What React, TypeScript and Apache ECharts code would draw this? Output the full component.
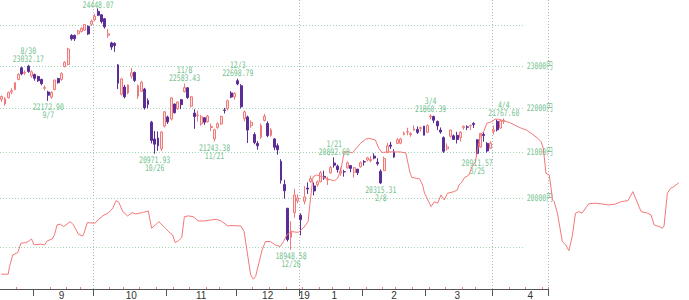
import { useEffect, useRef } from 'react';
import * as echarts from 'echarts';

// ---------- categories (trading days) ----------
const firstDay = '2018-08-20';
const lastDay = '2019-04-23';
const holidays = [
  '2018-09-17', '2018-09-24', '2018-10-08', '2018-11-23', '2018-12-24', '2018-12-31',
  '2019-01-01', '2019-01-02', '2019-01-03', '2019-01-14', '2019-02-11', '2019-03-21',
];

// month tick labels: [date where the label sits, text]
const monthLabels: [string, string][] = [
  ['2018-09-13', '9'], ['2018-10-17', '10'], ['2018-11-15', '11'], ['2018-12-14', '12'],
  ['2019-01-07', '19'], ['2019-01-21', '1'], ['2019-02-15', '2'], ['2019-03-14', '3'], ['2019-04-16', '4'],
];
const quarterStarts = ['2018-10-01', '2019-01-04', '2019-04-01'];

// ---------- candles [open, close, low, high] from 2018-08-20 ----------
const candlesAug: number[][] = [
  [22210, 22275, 22150, 22300], [22100, 22230, 22060, 22260], [22250, 22370, 22230, 22390],
  [22380, 22410, 22330, 22470], [22440, 22600, 22420, 22620], [22680, 22800, 22660, 22830],
  [22960, 22813, 22780, 22990], [22830, 22850, 22790, 22900], [23000, 22870, 22840, 23032.17],
  [22760, 22865, 22720, 22900],
];
const candlesSep: number[][] = [
  [22800, 22707, 22650, 22820], [22750, 22650, 22620, 22770], [22680, 22580, 22540, 22700],
  [22470, 22487, 22420, 22540], [22380, 22307, 22172.9, 22410], [22260, 22373, 22220, 22400],
  [22440, 22664, 22420, 22680], [22700, 22604, 22580, 22720], [22680, 22821, 22650, 22850],
  [22990, 23094, 22970, 23120], [23040, 23420, 23020, 23450], [23760, 23672, 23630, 23790],
  [23760, 23674, 23620, 23780], [23800, 23870, 23780, 23900], [23860, 23940, 23830, 23960],
  [23890, 24033, 23880, 24050], [23990, 23796, 23770, 24010], [24040, 24120, 24000, 24160],
];
const candlesOct: number[][] = [
  [24150, 24245, 24120, 24306], [24370, 24270, 24250, 24448.07], [24280, 24110, 24060, 24300],
  [24180, 23975, 23930, 24200], [23760, 23800, 23700, 23920], [23570, 23469, 23400, 23600],
  [23560, 23506, 23350, 23590], [23030, 22590, 22450, 23050], [22330, 22694, 22300, 22720],
  [22500, 22271, 22230, 22550], [22360, 22549, 22330, 22560], [22760, 22841, 22700, 22960],
  [22850, 22658, 22620, 22870], [22280, 22532, 22220, 22560], [22400, 22614, 22380, 22650],
  [22450, 22010, 21970, 22480], [22180, 22091, 22000, 22230], [21680, 21268, 21200, 21710],
  [21300, 21184, 20971.93, 21480], [21320, 21149, 21035, 21470], [21080, 21457, 21030, 21480],
  [21590, 21920, 21560, 21940],
];
const candlesNov: number[][] = [
  [21800, 21687, 21640, 21830], [21750, 22243, 21720, 22260], [22100, 21898, 21880, 22110],
  [21990, 22147, 21960, 22170], [22200, 22085, 21980, 22220], [22390, 22486, 22370, 22583.43],
  [22480, 22250, 22220, 22500], [22050, 22269, 22020, 22290], [21890, 21810, 21530, 21980],
  [21830, 21846, 21700, 21950], [21640, 21803, 21600, 21850], [21780, 21680, 21620, 21800],
  [21690, 21821, 21670, 21850], [21560, 21583, 21480, 21650], [21300, 21507, 21243.38, 21530],
  [21560, 21646, 21530, 21680], [21640, 21812, 21620, 21830], [21960, 21952, 21880, 22010],
  [21990, 22177, 21950, 22200], [22360, 22262, 22240, 22400], [22270, 22351, 22200, 22380],
];
const candlesDec: number[][] = [
  [22650, 22574, 22540, 22698.79], [22530, 22036, 22000, 22570], [21760, 21919, 21700, 21950],
  [21800, 21501, 21210, 21830], [21600, 21679, 21550, 21720], [21400, 21219, 21180, 21450],
  [21200, 21148, 21060, 21250], [21340, 21602, 21300, 21650], [21720, 21816, 21700, 21870],
  [21650, 21375, 21340, 21700], [21380, 21506, 21350, 21550], [21300, 21115, 21050, 21320],
  [21150, 21060, 20950, 21200], [20800, 20392, 20320, 20850], [20300, 20166, 20000, 20400],
  [19800, 19155, 19117, 19800], [19200, 19327, 18948.58, 19530], [19706, 20077, 19600, 20211],
  [19950, 20015, 19900, 20090],
];
const candlesJan: number[][] = [
  [19655, 19561, 19241, 19692], [19944, 20038, 19880, 20266], [20224, 20204, 20100, 20347],
  [20366, 20427, 20331, 20494], [20270, 20163, 20068, 20345], [20296, 20359, 20253, 20389],
  [20362, 20555, 20346, 20592], [20476, 20442, 20400, 20599], [20401, 20402, 20289, 20466],
  [20552, 20666, 20535, 20703], [20765, 20719, 20665, 20892.68], [20698, 20622, 20558, 20731],
  [20546, 20593, 20490, 20670], [20575, 20574, 20470, 20617], [20660, 20773, 20640, 20800],
  [20711, 20649, 20566, 20721], [20564, 20664, 20451, 20681], [20633, 20556, 20504, 20633],
  [20683, 20773, 20667, 20803],
];
const candlesFeb: number[][] = [
  [20797, 20788, 20709, 20831], [20832, 20883, 20801, 20900], [20820, 20844, 20781, 20922],
  [20918, 20874, 20847, 20981], [20784, 20751, 20710, 20871], [20585, 20333, 20315.31, 20626],
  [20600, 20864, 20600, 20908], [21000, 21144, 20980, 21213], [21165, 21139, 21077, 21235],
  [21011, 20900, 20880, 21071], [21198, 21281, 21190, 21322], [21206, 21302, 21182, 21328],
  [21400, 21431, 21381, 21470], [21454, 21464, 21383, 21553], [21400, 21425, 21350, 21450],
  [21500, 21528, 21490, 21610], [21514, 21449, 21412, 21583], [21540, 21556, 21470, 21580],
  [21590, 21385, 21385, 21595],
];
const candlesMar: number[][] = [
  [21450, 21602, 21440, 21632], [21800, 21822, 21743, 21860.39], [21810, 21726, 21661, 21830],
  [21695, 21596, 21500, 21720], [21500, 21456, 21420, 21560], [21330, 21025, 20990, 21360],
  [21080, 21125, 21040, 21200], [21361, 21503, 21330, 21510], [21370, 21290, 21280, 21400],
  [21383, 21287, 21200, 21460], [21330, 21451, 21240, 21480], [21553, 21584, 21508, 21603],
  [21573, 21566, 21500, 21610], [21600, 21608, 21500, 21620], [21651, 21627, 21551, 21682],
  [21280, 20977, 20911.57, 21290], [21120, 21428, 21100, 21432], [21400, 21378, 21240, 21450],
  [21200, 21033, 20995, 21230], [21090, 21205, 21080, 21250],
];
const candlesApr: number[][] = [
  [21470, 21509, 21400, 21600], [21700, 21505, 21470, 21740], [21545, 21713, 21530, 21730],
  [21700, 21724, 21640, 21767.6],
];

// ---------- annotated highs / lows ----------
const pivotDates = ['2018-08-30', '2018-09-07', '2018-10-02', '2018-10-26', '2018-11-08', '2018-11-21',
  '2018-12-03', '2018-12-26', '2019-01-21', '2019-02-08', '2019-03-04', '2019-03-25', '2019-04-04'];
const pivotPrices = [23032.17, 22172.9, 24448.07, 20971.93, 22583.43, 21243.38,
  22698.79, 18948.58, 20892.68, 20315.31, 21860.39, 20911.57, 21767.6];
const pivotKinds = ['high', 'low', 'high', 'low', 'high', 'low', 'high', 'low', 'high', 'low', 'high', 'low', 'high'];

// ---------- price grid (log scale) ----------
const gridLevels = [19000, 20000, 21000, 22000, 23000, 24000];
const labeledLevels = [20000, 21000, 22000, 23000];
const priceTop = 24663;
const priceBottom = 18182;
const gridLineEndDate = '2019-04-12';

// ---------- red comparison line: [day position, value] ----------
const overlayDay = [
  -0.1, 2.0, 2.4, 3.4, 4.9, 5.9, 7.4, 8.4, 9.1, 9.9,
  11.9, 13.1, 13.9, 15.4, 16.1, 16.9, 17.9, 18.9, 20.9, 21.9,
  23.4, 24.7, 25.1, 26.1, 28.4, 29.4, 30.9, 32.4, 33.4, 33.9,
  34.9, 35.7, 36.9, 38.4, 39.7, 40.9, 42.9, 44.7, 45.7, 46.9,
  47.9, 49.9, 51.4, 52.1, 52.9, 53.9, 54.9, 55.7, 56.9, 58.4,
  59.9, 61.9, 63.9, 65.4, 66.9, 68.9, 69.9, 72.9, 73.9, 74.9,
  75.9, 76.7, 77.4, 78.4, 79.4, 80.4, 81.9, 83.4, 84.9, 85.9,
  86.9, 88.4, 90.4, 91.9, 93.4, 94.1, 94.9, 95.9, 97.9, 99.4,
  101.4, 102.4, 103.4, 104.4, 105.9, 106.9, 107.9, 109.4, 110.9, 111.9,
  113.9, 114.9, 115.9, 118.4, 121.4, 123.2, 124.4, 125.0, 127.4, 128.3,
  128.9, 130.4, 130.9, 131.9, 132.9, 133.9, 134.9, 135.9, 137.9, 138.9,
  139.4, 140.4, 140.9, 142.4, 143.4, 144.4, 145.4, 145.9, 146.9, 147.9,
  149.4, 150.4, 151.4, 152.9, 154.9, 156.9, 158.4, 159.9, 161.4, 163.4,
  164.4, 165.1, 165.9, 166.9, 167.4, 167.9, 168.4, 169.4, 170.9, 171.9,
  172.9, 173.9, 174.9, 175.9, 176.9, 178.9, 180.9, 182.9, 184.9, 186.9,
  188.9, 190.9, 192.4, 193.4, 194.9, 196.9, 197.9, 198.9, 200.4, 201.4,
  201.9, 202.9, 203.9, 204.9, 206.4,
];
const overlayValue = [
  18505, 18505, 18653, 18883, 18928, 19116, 19128, 19162, 19201, 19082,
  19096, 19082, 19162, 19201, 19282, 19485, 19500, 19451, 19553, 19485,
  19297, 19262, 19317, 19533, 19520, 19588, 19676, 19726, 19794, 19835,
  19988, 19955, 19759, 19670, 19738, 19711, 19738, 19773, 19418, 19485,
  19553, 19418, 19317, 19282, 19128, 19168, 19228, 19655, 19670, 19655,
  19567, 19567, 19588, 19601, 19567, 19465, 19471, 19465, 19349, 18916,
  18492, 18408, 18459, 18720, 18982, 19148, 19148, 19082, 19048, 19148,
  19282, 19349, 19333, 19418, 19553, 20003, 20490, 20533, 20490, 20447,
  20405, 20462, 20641, 21034, 21034, 21012, 21099, 21226, 21314, 21337,
  21300, 21122, 21023, 21034, 21034, 21012, 20598, 20479, 20447, 20319,
  20143, 19934, 19863, 19967, 19934, 20107, 20003, 20143, 20177, 20213,
  20319, 20390, 20462, 20533, 20712, 20821, 21226, 21411, 21486, 21676,
  21712, 21767, 21767, 21735, 21689, 21614, 21562, 21524, 21450, 21337,
  21262, 21115, 20570, 20533, 20283, 20003, 19967, 19726, 19148, 19082,
  18968, 19248, 19726, 19759, 19726, 19919, 19934, 19919, 19898, 19913,
  19967, 19988, 20177, 20003, 19759, 19726, 19690, 19485, 19451, 19418,
  19465, 20143, 20249, 20283, 20367,
];
const overlayDaysTotal = 210;

// ---------- styles ----------
const UP_FILL = '#fde3e3';
const UP_LINE = '#f07a7a';
const DOWN = '#5b2d96';
const GREEN = '#74bf8e';
const GRID_GREEN = '#9fd6b2';
const TEXT_FONT = '"DejaVu Sans Mono", "Noto Sans CJK JP", monospace';

function buildDays(): string[] {
  const out: string[] = [];
  const hol = new Set(holidays);
  const d = new Date(firstDay + 'T00:00:00Z');
  const end = new Date(lastDay + 'T00:00:00Z');
  while (d.getTime() <= end.getTime()) {
    const wd = d.getUTCDay();
    const s = d.toISOString().slice(0, 10);
    if (wd !== 0 && wd !== 6 && !hol.has(s)) out.push(s);
    d.setUTCDate(d.getUTCDate() + 1);
  }
  return out;
}

function md(s: string) {
  const [, m, d] = s.split('-');
  return `${parseInt(m, 10)}/${parseInt(d, 10)}`;
}

function weekday(s: string) {
  return new Date(s + 'T00:00:00Z').getUTCDay();
}

function buildOption() {
  const L = Math.log;
  const days = buildDays();
  const candles = [
    ...candlesAug, ...candlesSep, ...candlesOct, ...candlesNov, ...candlesDec,
    ...candlesJan, ...candlesFeb, ...candlesMar, ...candlesApr,
  ];
  const monthStartIdx = new Set<number>();
  const weekStartIdx = new Set<number>();
  days.forEach((d, i) => {
    if (i > 0 && d.slice(0, 7) !== days[i - 1].slice(0, 7)) monthStartIdx.add(i);
    if (i > 0 && weekday(d) < weekday(days[i - 1])) weekStartIdx.add(i);
  });
  const quarterIdx = new Set(quarterStarts.map((d) => days.indexOf(d)));
  const labelMap = new Map(monthLabels);
  const labelIdx = new Set(monthLabels.map(([d]) => days.indexOf(d)));
  const gridEndIdx = days.indexOf(gridLineEndDate);

  const yMin = L(priceBottom);
  const yMax = L(priceTop);

  const textStyle = (text: string, align: string) => ({
    text,
    fill: GREEN,
    fontSize: 9,
    fontFamily: TEXT_FONT,
    align,
    verticalAlign: 'middle',
    textAlign: align,
    textVerticalAlign: 'middle',
  });

  return {
    animation: false,
    backgroundColor: '#ffffff',
    grid: [
      { left: -1.33, right: 140.33, top: 0, bottom: 9 },
      { left: -1.33, right: -9.67, top: 0, bottom: 9 },
    ],
    xAxis: [
      {
        type: 'category',
        gridIndex: 0,
        data: days,
        boundaryGap: true,
        axisLine: { show: true, lineStyle: { color: '#555', width: 1 } },
        axisTick: {
          show: true,
          length: 7,
          interval: (i: number) => monthStartIdx.has(i),
          lineStyle: { color: '#555', width: 1 },
        },
        axisLabel: {
          show: true,
          interval: (i: number) => labelIdx.has(i),
          formatter: (v: string) => labelMap.get(v) || '',
          fontSize: 10,
          fontFamily: '"Liberation Sans Narrow", "Liberation Sans", sans-serif',
          color: '#333',
          margin: 1,
        },
        splitLine: {
          show: true,
          interval: (i: number) => quarterIdx.has(i),
          lineStyle: { color: '#b4b4b4', width: 1, type: [1, 2] },
        },
      },
      { type: 'value', gridIndex: 1, min: -0.5, max: overlayDaysTotal - 0.5, show: false },
      {
        type: 'category',
        gridIndex: 0,
        position: 'bottom',
        data: days,
        boundaryGap: true,
        axisLine: { show: false },
        axisLabel: { show: false },
        splitLine: { show: false },
        axisTick: {
          show: true,
          inside: true,
          length: 2,
          interval: (i: number) => weekStartIdx.has(i) && !monthStartIdx.has(i),
          lineStyle: { color: '#f07a7a', width: 1 },
        },
      },
    ],
    yAxis: [
      { type: 'value', gridIndex: 0, min: yMin, max: yMax, show: false },
      { type: 'value', gridIndex: 1, min: yMin, max: yMax, show: false },
    ],
    series: [
      {
        type: 'custom',
        xAxisIndex: 0,
        yAxisIndex: 0,
        silent: true,
        z: 1,
        data: gridLevels.map((v) => [0, L(v)]),
        renderItem: (params: any, api: any) => {
          const lvl = gridLevels[params.dataIndex];
          const y = Math.round(api.coord([0, L(lvl)])[1] - 0.5) + 0.5;
          const x1 = api.coord([gridEndIdx, L(lvl)])[0];
          const children: any[] = [
            {
              type: 'line',
              shape: { x1: 0, y1: y, x2: x1, y2: y },
              style: { stroke: GRID_GREEN, lineWidth: 1, lineDash: [1, 2] },
            },
          ];
          if (labeledLevels.includes(lvl)) {
            children.push({
              type: 'text',
              x: x1 + 3,
              y,
              scaleX: 0.72,
              style: textStyle(`${lvl}円`, 'left'),
            });
          }
          return { type: 'group', children };
        },
      },
      {
        type: 'candlestick',
        xAxisIndex: 0,
        yAxisIndex: 0,
        barWidth: 2.4,
        z: 3,
        data: candles.map(([o, c, l, h]) => [L(o), L(c), L(l), L(h)]),
        itemStyle: {
          color: UP_FILL,
          color0: DOWN,
          borderColor: UP_LINE,
          borderColor0: DOWN,
          borderWidth: 1,
        },
      },
      {
        type: 'line',
        xAxisIndex: 1,
        yAxisIndex: 1,
        z: 4,
        symbol: 'none',
        silent: true,
        data: overlayDay.map((d, i) => [d, L(overlayValue[i])]),
        lineStyle: { color: '#f47878', width: 1 },
      },
      {
        type: 'custom',
        xAxisIndex: 0,
        yAxisIndex: 0,
        silent: true,
        z: 5,
        data: pivotDates.map((d, i) => [days.indexOf(d), L(pivotPrices[i])]),
        renderItem: (params: any, api: any) => {
          const i = params.dataIndex;
          const pt = api.coord([api.value(0), api.value(1)]);
          const high = pivotKinds[i] === 'high';
          const yVal = high ? Math.max(pt[1] - 5.5, 5.4) : pt[1] + 6.5;
          const yDate = high ? yVal - 8 : yVal + 8;
          const children: any[] = [
            { type: 'text', x: pt[0], y: yVal, scaleX: 0.72, style: textStyle(pivotPrices[i].toFixed(2), 'center') },
          ];
          if (yDate > 5) {
            children.push({ type: 'text', x: pt[0], y: yDate, scaleX: 0.72, style: textStyle(md(pivotDates[i]), 'center') });
          }
          return { type: 'group', children };
        },
      },
    ],
  };
}

export default function App() {
  const ref = useRef<HTMLDivElement>(null);
  useEffect(() => {
    const chart = echarts.init(ref.current!, null, { renderer: 'svg' });
    chart.setOption(buildOption() as any);
    return () => chart.dispose();
  }, []);
  return (
    <div
      ref={ref}
      style={{ position: 'absolute', left: 0, top: 0, width: 689, height: 300, background: '#fff' }}
    />
  );
}
